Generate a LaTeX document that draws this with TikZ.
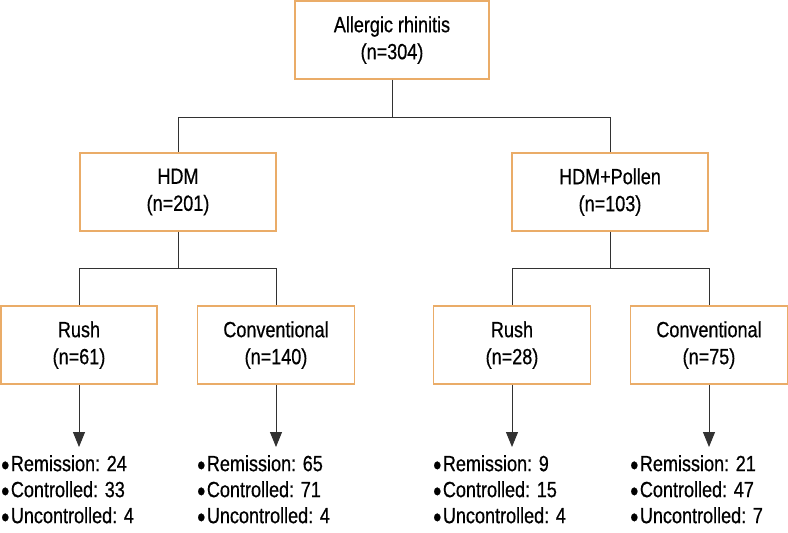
\documentclass[tikz,border=0pt]{standalone}
\usepackage{fontspec}
\setmainfont{Liberation Sans}[FakeStretch=0.82,FakeBold=0.6]
\usetikzlibrary{arrows.meta}
\definecolor{boxline}{RGB}{234,172,104}
\definecolor{conn}{RGB}{50,50,50}
\begin{document}
\begin{tikzpicture}[x=1pt,y=-1pt,
  box/.style={draw=boxline,line width=1.2pt,minimum height=78pt,align=center,inner sep=0pt,
    font=\fontsize{22}{27}\selectfont,text=black},
  conline/.style={draw=conn,line width=0.9pt},
  arr/.style={conline,-{Triangle[length=15pt,width=12pt]}},
  lst/.style={anchor=north west,align=left,inner sep=0pt,font=\fontsize{22}{26}\selectfont,text=black}]
\useasboundingbox (0,0) rectangle (788,533);
\node[box,minimum width=194pt] (top) at (392,40) {Allergic rhinitis\\(n=304)};
\node[box,minimum width=196pt] (hdm) at (178,192) {HDM\\(n=201)};
\node[box,minimum width=196pt] (pol) at (610,192) {HDM+Pollen\\(n=103)};
\node[box,minimum width=156pt] (r1) at (79,345) {Rush\\(n=61)};
\node[box,minimum width=157pt] (c1) at (276,345) {Conventional\\(n=140)};
\node[box,minimum width=157pt] (r2) at (512,345) {Rush\\(n=28)};
\node[box,minimum width=157pt] (c2) at (709,345) {Conventional\\(n=75)};
\coordinate (j0) at (392,117);
\coordinate (j1) at (178,268);
\coordinate (j2) at (610,268);
\draw[conline] (top.south) -- (j0);
\draw[conline] (j0) -| (hdm.north);
\draw[conline] (j0) -| (pol.north);
\draw[conline] (hdm.south) -- (j1);
\draw[conline] (j1) -| (r1.north);
\draw[conline] (j1) -| (c1.north);
\draw[conline] (pol.south) -- (j2);
\draw[conline] (j2) -| (r2.north);
\draw[conline] (j2) -| (c2.north);
\coordinate (a1) at (79,447);
\coordinate (a2) at (276,447);
\coordinate (a3) at (512,447);
\coordinate (a4) at (709,447);
\draw[arr] (r1.south) -- (a1);
\draw[arr] (c1.south) -- (a2);
\draw[arr] (r2.south) -- (a3);
\draw[arr] (c2.south) -- (a4);
\newcommand{\bul}{\raisebox{-0.17em}{\scalebox{1.3}{•}}\hspace{1.5pt}}
\node[lst] (l1) at (1,455) {\bul Remission: 24\\\bul Controlled: 33\\\bul Uncontrolled: 4};
\node[lst] (l2) at (197,455) {\bul Remission: 65\\\bul Controlled: 71\\\bul Uncontrolled: 4};
\node[lst] (l3) at (433,455) {\bul Remission: 9\\\bul Controlled: 15\\\bul Uncontrolled: 4};
\node[lst] (l4) at (630,455) {\bul Remission: 21\\\bul Controlled: 47\\\bul Uncontrolled: 7};
\end{tikzpicture}
\end{document}
